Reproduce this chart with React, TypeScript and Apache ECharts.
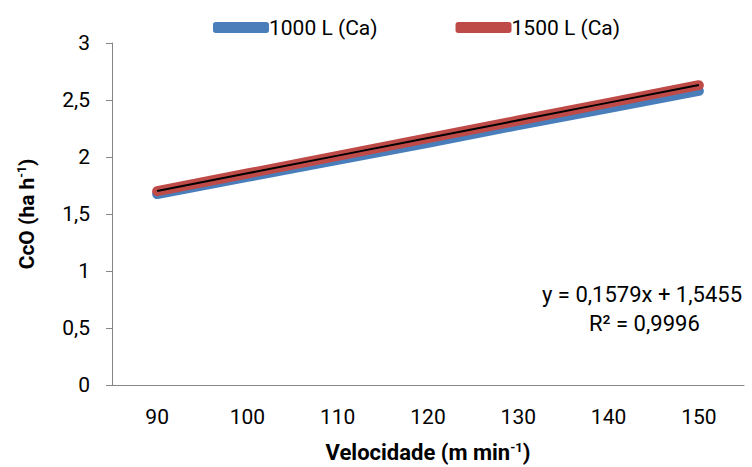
import React, { useEffect, useRef } from "react";
import * as echarts from "echarts";

const categories = ["90", "100", "110", "120", "130", "140", "150"];
const series1000 = [1.675, 1.825, 1.975, 2.125, 2.28, 2.43, 2.58];
const series1500 = [1.70, 1.855, 2.01, 2.165, 2.32, 2.475, 2.63];
const trendline = [1.702, 1.857, 2.012, 2.167, 2.322, 2.477, 2.632];
const seriesNames = ["1000 L (Ca)", "1500 L (Ca)"];
const equationLines = ["y = 0,1579x + 1,5455", "R² = 0,9996"];

const font = "Roboto, 'Liberation Sans', sans-serif";

export default function App() {
  const ref = useRef<HTMLDivElement>(null);
  useEffect(() => {
    if (!ref.current) return;
    const chart = echarts.init(ref.current, undefined, { renderer: "svg" });
    chart.setOption({
      animation: false,
      grid: { left: 112, right: 8, top: 43, bottom: 82, outerBoundsMode: "none", containLabel: false },
      legend: {
        data: seriesNames,
        top: 12,
        left: 208,
        itemWidth: 56,
        itemHeight: 11,
        itemGap: 78,
        icon: "roundRect",
        textStyle: { fontFamily: font, fontSize: 21, color: "#000", padding: [0, 0, 0, -5] },
      },
      xAxis: {
        type: "category",
        data: categories,
        boundaryGap: true,
        axisLine: { lineStyle: { color: "#868686", width: 1 } },
        axisTick: { show: false },
        axisLabel: { fontFamily: font, fontSize: 21, color: "#000", margin: 21 },
        name: "{a|Velocidade (m min}{s|-1}{a|)}",
        nameLocation: "middle",
        nameGap: 56,
        nameTextStyle: {
          rich: {
            a: { fontFamily: font, fontSize: 22, fontWeight: "bold", color: "#000" },
            s: { fontFamily: font, fontSize: 13, fontWeight: "bold", color: "#000", padding: [0, 0, 10, 0] },
          },
        },
      },
      yAxis: {
        type: "value",
        min: 0,
        max: 3,
        interval: 0.5,
        axisLine: { show: true, lineStyle: { color: "#868686", width: 1 } },
        axisTick: { show: true, length: 6, lineStyle: { color: "#868686" } },
        splitLine: { show: false },
        axisLabel: {
          fontFamily: font,
          fontSize: 21,
          color: "#000",
          margin: 22,
          formatter: (v: number) => String(v).replace(".", ","),
        },
        name: "{a|CcO (ha h}{s|-1}{a|)}",
        nameLocation: "middle",
        nameGap: 74,
        nameRotate: 90,
        nameTextStyle: {
          rich: {
            a: { fontFamily: font, fontSize: 21, fontWeight: "bold", color: "#000" },
            s: { fontFamily: font, fontSize: 12, fontWeight: "bold", color: "#000", padding: [0, 0, 10, 0] },
          },
        },
      },
      series: [
        {
          name: seriesNames[0],
          type: "line",
          data: series1000,
          symbol: "none",
          lineStyle: { color: "#4A7EBB", width: 10, cap: "round", join: "round" },
          itemStyle: { color: "#4A7EBB" },
        },
        {
          name: seriesNames[1],
          type: "line",
          data: series1500,
          symbol: "none",
          lineStyle: { color: "#BE4B48", width: 10, cap: "round", join: "round" },
          itemStyle: { color: "#BE4B48" },
        },
        {
          name: "trend",
          type: "line",
          data: trendline,
          symbol: "none",
          lineStyle: { color: "#000", width: 2 },
          z: 5,
        },
      ],
      graphic: [
        {
          type: "text",
          left: 542,
          top: 283,
          style: { text: equationLines[0], font: "22px Roboto, sans-serif", fill: "#000" },
        },
        {
          type: "text",
          left: 589,
          top: 312,
          style: { text: equationLines[1], font: "22px Roboto, sans-serif", fill: "#000" },
        },
      ],
    });
    return () => chart.dispose();
  }, []);
  return (
    <div
      ref={ref}
      style={{ position: "absolute", left: 0, top: 0, width: 752, height: 467 }}
    />
  );
}
